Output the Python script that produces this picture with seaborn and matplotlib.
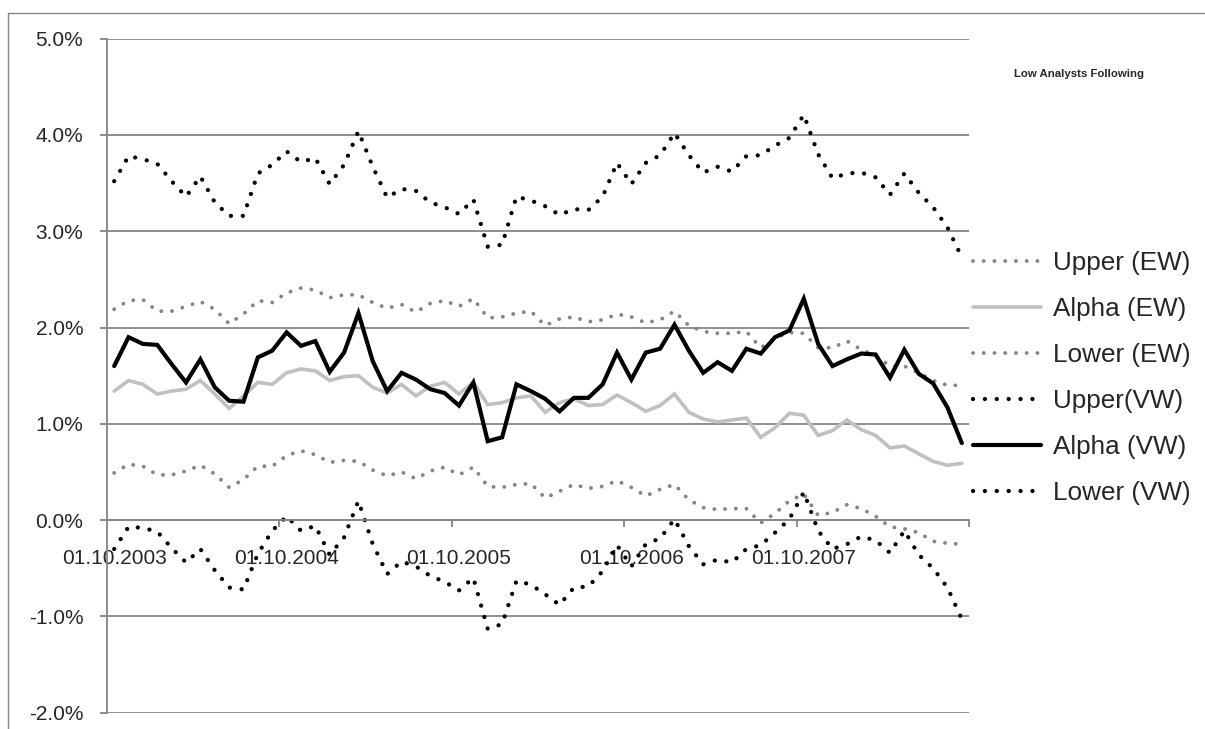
import numpy as np
import pandas as pd
import matplotlib
matplotlib.use("Agg")
import matplotlib.pyplot as plt
from matplotlib.lines import Line2D
import seaborn as sns

# monthly observations, 01.10.2003 .. 01.09.2008 (values in %)
dates = pd.date_range("2003-10-01", periods=60, freq="MS")

upper_ew = [2.19, 2.28, 2.29, 2.17, 2.17, 2.22, 2.27, 2.19, 2.04, 2.14,
            2.28, 2.26, 2.36, 2.41, 2.39, 2.31, 2.34, 2.34, 2.26, 2.20,
            2.24, 2.16, 2.25, 2.28, 2.22, 2.30, 2.10, 2.11, 2.15, 2.17,
            2.02, 2.09, 2.11, 2.06, 2.08, 2.14, 2.11, 2.05, 2.08, 2.17,
            2.02, 1.96, 1.94, 1.94, 1.96, 1.79, 1.89, 1.95, 1.94, 1.79,
            1.79, 1.86, 1.77, 1.71, 1.60, 1.60, 1.53, 1.45, 1.40, 1.40]
alpha_ew = [1.34, 1.45, 1.41, 1.31, 1.34, 1.36, 1.45, 1.31, 1.16, 1.29,
            1.43, 1.41, 1.53, 1.57, 1.55, 1.45, 1.49, 1.50, 1.38, 1.32,
            1.41, 1.29, 1.39, 1.43, 1.31, 1.43, 1.20, 1.22, 1.27, 1.29,
            1.12, 1.22, 1.26, 1.19, 1.20, 1.30, 1.22, 1.13, 1.19, 1.31,
            1.12, 1.05, 1.02, 1.04, 1.06, 0.86, 0.96, 1.11, 1.09, 0.88,
            0.93, 1.04, 0.94, 0.88, 0.75, 0.77, 0.69, 0.61, 0.57, 0.59]
lower_ew = [0.49, 0.58, 0.56, 0.47, 0.47, 0.51, 0.57, 0.48, 0.34, 0.42,
            0.56, 0.56, 0.67, 0.72, 0.68, 0.60, 0.62, 0.61, 0.52, 0.46,
            0.50, 0.43, 0.51, 0.55, 0.47, 0.55, 0.35, 0.34, 0.37, 0.38,
            0.23, 0.30, 0.37, 0.33, 0.35, 0.41, 0.34, 0.25, 0.32, 0.37,
            0.21, 0.13, 0.11, 0.12, 0.12, -0.03, 0.07, 0.20, 0.27, 0.05,
            0.08, 0.16, 0.12, 0.04, -0.07, -0.09, -0.13, -0.22, -0.24, -0.25]
upper_vw = [3.52, 3.78, 3.75, 3.70, 3.52, 3.36, 3.57, 3.30, 3.16, 3.16,
            3.60, 3.69, 3.83, 3.72, 3.76, 3.49, 3.69, 4.04, 3.67, 3.35,
            3.44, 3.42, 3.30, 3.25, 3.18, 3.33, 2.84, 2.86, 3.36, 3.32,
            3.26, 3.17, 3.23, 3.22, 3.36, 3.71, 3.49, 3.71, 3.79, 4.02,
            3.79, 3.61, 3.67, 3.62, 3.78, 3.79, 3.89, 3.97, 4.21, 3.80,
            3.55, 3.60, 3.61, 3.56, 3.38, 3.60, 3.40, 3.25, 3.04, 2.73]
alpha_vw = [1.60, 1.90, 1.83, 1.82, 1.62, 1.43, 1.67, 1.38, 1.24, 1.23,
            1.69, 1.76, 1.95, 1.81, 1.86, 1.54, 1.74, 2.15, 1.65, 1.34,
            1.53, 1.46, 1.36, 1.32, 1.19, 1.43, 0.82, 0.86, 1.41, 1.34,
            1.26, 1.13, 1.27, 1.27, 1.41, 1.74, 1.46, 1.74, 1.78, 2.03,
            1.76, 1.53, 1.64, 1.55, 1.78, 1.73, 1.90, 1.97, 2.30, 1.83,
            1.60, 1.67, 1.73, 1.72, 1.48, 1.77, 1.52, 1.42, 1.17, 0.80]
lower_vw = [-0.30, -0.07, -0.08, -0.12, -0.29, -0.44, -0.30, -0.52, -0.70, -0.72,
            -0.35, -0.11, 0.04, -0.11, -0.06, -0.36, -0.18, 0.20, -0.25, -0.56,
            -0.43, -0.48, -0.58, -0.64, -0.73, -0.60, -1.13, -1.08, -0.63, -0.67,
            -0.77, -0.88, -0.70, -0.69, -0.53, -0.26, -0.48, -0.25, -0.19, 0.01,
            -0.27, -0.46, -0.41, -0.44, -0.30, -0.26, -0.13, 0.01, 0.29, -0.11,
            -0.30, -0.25, -0.17, -0.21, -0.34, -0.11, -0.36, -0.50, -0.70, -1.03]

series_names = ["Upper (EW)", "Alpha (EW)", "Lower (EW)",
                "Upper(VW)", "Alpha (VW)", "Lower (VW)"]
series_values = [upper_ew, alpha_ew, lower_ew, upper_vw, alpha_vw, lower_vw]

sns.set_style("white")
plt.rcParams["font.family"] = ["Liberation Sans", "DejaVu Sans"]

GRID = "#868686"
DOT = (0, (0.01, 2.75))
styles = {
    "Upper (EW)": dict(color="#858585", lw=2.8, ls=DOT),
    "Alpha (EW)": dict(color="#c0c0c0", lw=2.6, ls="-"),
    "Lower (EW)": dict(color="#858585", lw=2.8, ls=DOT),
    "Upper(VW)": dict(color="black", lw=3.1, ls=DOT),
    "Alpha (VW)": dict(color="black", lw=3.0, ls="-"),
    "Lower (VW)": dict(color="black", lw=3.1, ls=DOT),
}

pos = np.arange(len(dates))
df = pd.DataFrame({"pos": pos})
for name, vals in zip(series_names, series_values):
    df[name] = vals

fig = plt.figure(figsize=(12.05, 7.29), dpi=100)
ax = fig.add_axes([107 / 1205, 16.3 / 729, 862 / 1205, 674 / 729])

handles = []
for name in series_names:
    st = styles[name]
    sns.lineplot(data=df, x="pos", y=name, ax=ax, color=st["color"],
                 linewidth=st["lw"], linestyle=st["ls"],
                 dash_capstyle="round", solid_capstyle="round",
                 solid_joinstyle="miter")
    handles.append(Line2D([], [], color=st["color"], linewidth=st["lw"],
                          linestyle=st["ls"], dash_capstyle="round",
                          solid_capstyle="round"))

ax.set_xlim(-0.5, len(dates) - 0.5)
ax.set_ylim(-2, 5)
ax.set_xlabel("")
ax.set_ylabel("")

# y axis: percent ticks with gridlines
ax.set_yticks(np.arange(-2, 6, 1))
ax.set_yticklabels([f"{v:.1f}%" for v in np.arange(-2, 6, 1)], fontsize=15)
ax.yaxis.grid(True, color=GRID, linewidth=1.3)
ax.set_axisbelow(True)
ax.tick_params(axis="y", length=5, width=1.3, color=GRID, pad=12, left=True)

# x axis sits on the 0% line, ticks between categories every 12 months
ax.spines["bottom"].set_position(("data", 0))
for side in ["top", "right"]:
    ax.spines[side].set_visible(False)
for side in ["left", "bottom"]:
    ax.spines[side].set_color(GRID)
    ax.spines[side].set_linewidth(1.3)
ax.set_xticks(np.arange(11.5, len(dates), 12))
ax.set_xticklabels([])
ax.tick_params(axis="x", which="major", length=5, width=1.3, color=GRID,
               direction="out", bottom=True)
lab_pos = np.arange(0, len(dates), 12)
ax.set_xticks(lab_pos, minor=True)
ax.set_xticklabels([dates[i].strftime("%d.%m.%Y") for i in lab_pos],
                   minor=True, fontsize=15)
ax.tick_params(axis="x", which="minor", length=0, pad=21)

fig.legend(handles, series_names, loc="upper left",
           bbox_to_anchor=(973 / 1205, 1 - 251 / 729),
           frameon=False, fontsize=18.8, handlelength=2.6,
           handletextpad=0.45, labelspacing=0.84, borderpad=0,
           borderaxespad=0)

fig.text(1079.5 / 1205, 1 - 74 / 729, "Low Analysts Following",
         ha="center", va="center", fontsize=8.2, fontweight="bold")

# chart area border (only left and top visible in the crop)
fig.add_artist(Line2D([8 / 1205, 8 / 1205, 1], [0, 1 - 13 / 729, 1 - 13 / 729],
                      transform=fig.transFigure, color=GRID, linewidth=1.0))

fig.savefig("out.png", dpi=100)
